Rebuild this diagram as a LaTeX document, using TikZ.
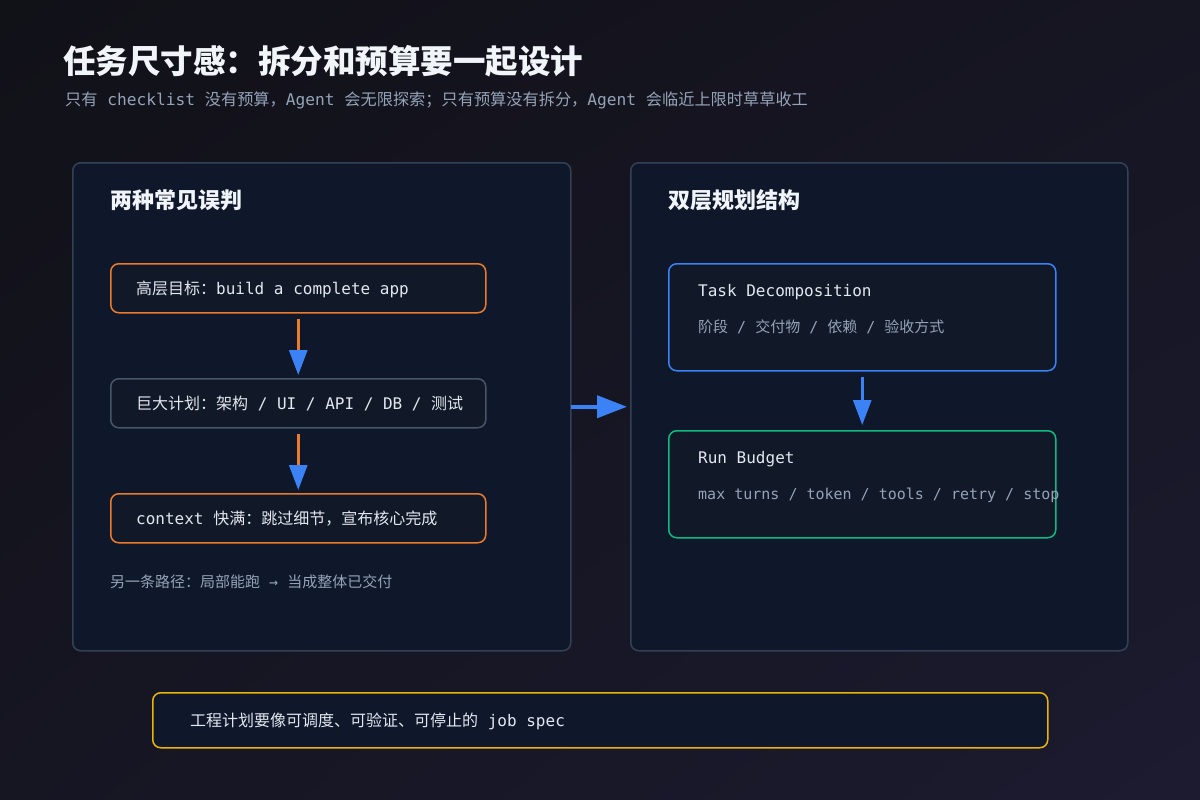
\documentclass[tikz,border=0pt]{standalone}
\usepackage{fontspec}
\usetikzlibrary{arrows.meta,shadings}
\newfontfamily\mono{DejaVu Sans Mono}
\newfontfamily\cjk{Noto Sans CJK SC}
\newcommand\zh[1]{{\cjk #1}}
\definecolor{bgA}{HTML}{111118}
\definecolor{bgM}{HTML}{161522}
\definecolor{bgB}{HTML}{1C1B30}
\definecolor{panelfill}{HTML}{0F172A}
\definecolor{panelborder}{HTML}{334155}
\definecolor{boxfill}{HTML}{111827}
\definecolor{orangeC}{HTML}{EA7A2C}
\definecolor{grayC}{HTML}{475569}
\definecolor{blueC}{HTML}{3B82F6}
\definecolor{greenC}{HTML}{10B981}
\definecolor{goldC}{HTML}{EAB308}
\definecolor{titleC}{HTML}{F1F5F9}
\definecolor{mainC}{HTML}{E2E8F0}
\definecolor{subC}{HTML}{94A3B8}
\tikzset{
  panel/.style={draw=panelborder, fill=panelfill, rounded corners=8pt, line width=1.5pt, anchor=north west, inner sep=0pt},
  box/.style={fill=boxfill, rounded corners=8pt, line width=1.5pt, anchor=north west, inner sep=0pt},
  head/.style={anchor=west, inner sep=0pt, text=titleC, font=\cjk\bfseries\fontsize{22}{22}\selectfont},
  txt/.style={anchor=west, inner sep=0pt, text=mainC, font=\mono\fontsize{16}{16}\selectfont},
  subtxt/.style={anchor=west, inner sep=0pt, text=subC, font=\mono\fontsize{15}{15}\selectfont},
  larrow/.style={draw=orangeC, line width=3pt, -{Triangle[length=25pt, width=18pt, color=blueC]}},
  barrow/.style={draw=blueC, line width=3pt, -{Triangle[length=25pt, width=18pt, color=blueC]}}
}
\begin{document}
\begin{tikzpicture}[x=1pt,y=-1pt]
\useasboundingbox (0,0) rectangle (1200,800);
\shade[upper left=bgA, upper right=bgM, lower left=bgM, lower right=bgB] (0,0) rectangle (1200,800);

% title
\node[anchor=west, inner sep=0pt, text=titleC, font=\cjk\bfseries\fontsize{32.5}{32.5}\selectfont] (title) at (63,61) {任务尺寸感：拆分和预算要一起设计};
\node[subtxt, font=\mono\fontsize{16.2}{16.2}\selectfont] (subtitle) at (65,100) {\zh{只有} checklist \zh{没有预算，}Agent \zh{会无限探索；只有预算没有拆分，}Agent \zh{会临近上限时草草收工}};

% left panel
\node[panel, minimum width=498pt, minimum height=488pt] (lp) at (72,162) {};
\node[head] (lph) at (110,200) {两种常见误判};
\node[box, draw=orangeC, minimum width=375pt, minimum height=49pt] (b1) at (110,263) {};
\node[txt] (t1) at (136,289) {\zh{高层目标：}build a complete app};
\node[box, draw=grayC, minimum width=375pt, minimum height=49pt] (b2) at (110,378) {};
\node[txt] (t2) at (136,404) {\zh{巨大计划：架构} / UI / API / DB / \zh{测试}};
\node[box, draw=orangeC, minimum width=375pt, minimum height=49pt] (b3) at (110,493) {};
\node[txt] (t3) at (136,519) {context \zh{快满：跳过细节，宣布核心完成}};
\node[subtxt] (note) at (110,582) {\zh{另一条路径：局部能跑} → \zh{当成整体已交付}};
\draw[larrow] ([yshift=-5pt]b1.south) -- ([yshift=3pt]b2.north);
\draw[larrow] ([yshift=-5pt]b2.south) -- ([yshift=3pt]b3.north);

% right panel
\node[panel, minimum width=497pt, minimum height=488pt] (rp) at (630,162) {};
\node[head] (rph) at (668,200) {双层规划结构};
\node[box, draw=blueC, minimum width=387pt, minimum height=107pt] (td) at (668,263) {};
\node[txt] (tdt) at (698,292) {Task Decomposition};
\node[subtxt] (tds) at (698,327) {\zh{阶段} / \zh{交付物} / \zh{依赖} / \zh{验收方式}};
\node[box, draw=greenC, minimum width=387pt, minimum height=107pt] (rb) at (668,430) {};
\node[txt] (rbt) at (698,459) {Run Budget};
\node[subtxt] (rbs) at (698,495) {max turns / token / tools / retry / stop};
\draw[barrow] ([yshift=-5pt]td.south) -- ([yshift=5pt]rb.north);

% middle arrow
\draw[barrow, line width=4pt, -{Triangle[length=30pt, width=22pt, color=blueC]}] ([xshift=-1pt]lp.east) -- ([xshift=-3pt]rp.west);

% bottom
\node[box, draw=goldC, fill=panelfill, minimum width=895pt, minimum height=55pt] (bt) at (152,692) {};
\node[txt] (btt) at (190,721) {\zh{工程计划要像可调度、可验证、可停止的} job spec};
\end{tikzpicture}
\end{document}
